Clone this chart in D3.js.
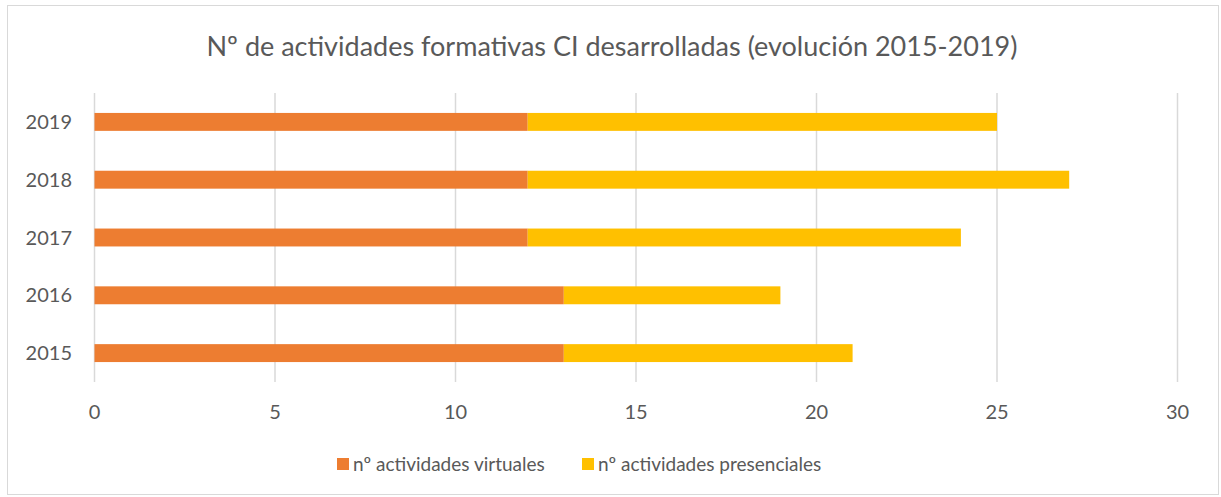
<!DOCTYPE html>
<html lang="en">
<head>
<meta charset="utf-8">
<title>Nº de actividades formativas CI desarrolladas</title>
<script src="https://cdn.jsdelivr.net/npm/d3@7"></script>
<style>
  body { margin: 0; background: #fff; }
  text { font-family: Lato, "Open Sans", sans-serif; fill: #595959; }
</style>
</head>
<body>
<script>
// chart data
var years = ["2019", "2018", "2017", "2016", "2015"];
var virtuales = [12, 12, 12, 13, 13];
var presenciales = [13, 15, 12, 6, 8];
var seriesNames = ["nº actividades virtuales", "nº actividades presenciales"];
var xTicks = [0, 5, 10, 15, 20, 25, 30];

var w = 1221, h = 497;
var colors = ["#ED7D31", "#FFC000"];

var svg = d3.select("body").append("svg")
  .attr("width", w)
  .attr("height", h);

// outer frame
svg.append("rect")
  .attr("x", 7.5).attr("y", 5.5)
  .attr("width", 1211).attr("height", 489)
  .attr("fill", "#fff")
  .attr("stroke", "#D9D9D9");

// title
svg.append("text")
  .attr("x", 612).attr("y", 56)
  .attr("text-anchor", "middle")
  .attr("font-size", "27px")
  .text("Nº de actividades formativas CI desarrolladas (evolución 2015-2019)");

var xScale = d3.scaleLinear().domain([0, 30]).range([94.5, 1177.5]);
var yScale = d3.scaleBand().domain(years).range([93, 382]).paddingInner(0.69).paddingOuter(0.345);

// gridlines
svg.selectAll("line.grid")
  .data(xTicks)
  .enter()
  .append("line")
  .attr("class", "grid")
  .attr("x1", function(d) { return xScale(d); })
  .attr("x2", function(d) { return xScale(d); })
  .attr("y1", 93).attr("y2", 382)
  .attr("stroke", "#D9D9D9")
  .attr("stroke-width", 1.5);

// stack the two series
var rows = years.map(function(y, i) {
  return { year: y, v: virtuales[i], p: presenciales[i] };
});
var stack = d3.stack().keys(["v", "p"]);
var layers = stack(rows);

svg.selectAll("g.layer")
  .data(layers)
  .enter()
  .append("g")
  .attr("class", "layer")
  .attr("fill", function(d, i) { return colors[i]; })
  .selectAll("rect")
  .data(function(d) { return d; })
  .enter()
  .append("rect")
  .attr("x", function(d) { return xScale(d[0]); })
  .attr("y", function(d) { return yScale(d.data.year); })
  .attr("width", function(d) { return xScale(d[1]) - xScale(d[0]); })
  .attr("height", yScale.bandwidth());

// year labels
svg.selectAll("text.year")
  .data(years)
  .enter()
  .append("text")
  .attr("class", "year")
  .attr("x", 72)
  .attr("y", function(d) { return yScale(d) + yScale.bandwidth() / 2; })
  .attr("dy", "0.35em")
  .attr("text-anchor", "end")
  .attr("font-size", "20px")
  .text(function(d) { return d; });

// x tick labels
svg.selectAll("text.xtick")
  .data(xTicks)
  .enter()
  .append("text")
  .attr("class", "xtick")
  .attr("x", function(d) { return xScale(d); })
  .attr("y", 419)
  .attr("text-anchor", "middle")
  .attr("font-size", "20px")
  .text(function(d) { return d; });

// legend
var legendX = [337, 582];
var legend = svg.selectAll("g.legend")
  .data(seriesNames)
  .enter()
  .append("g")
  .attr("class", "legend")
  .attr("transform", function(d, i) { return "translate(" + legendX[i] + ",458)"; });

legend.append("rect")
  .attr("width", 12).attr("height", 12)
  .attr("fill", function(d, i) { return colors[i]; });

legend.append("text")
  .attr("x", 16).attr("y", 6)
  .attr("dy", "0.35em")
  .attr("font-size", "19px")
  .text(function(d) { return d; });
</script>
</body>
</html>
